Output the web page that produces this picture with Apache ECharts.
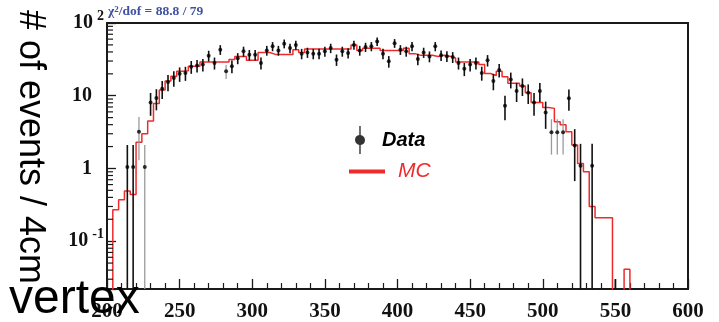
<!DOCTYPE html>
<html><head><meta charset="utf-8">
<script src="https://cdn.jsdelivr.net/npm/echarts@6/dist/echarts.min.js"></script>
<style>html,body{margin:0;padding:0;background:#fff}#c{width:719px;height:322px}</style>
</head><body><div id="c"></div>
<script>
// ---- data ----
const xStart = 200, xEnd = 600, binWidth = 4;
// MC histogram, events per 4 cm bin starting at 200 cm
const mcValues = [
  0, 0.27, 0.37, 0.49, 0.44, 2.3, 3.0, 4.5, 7.8, 12,
  16, 18.5, 21.7, 22, 25.4, 25.4, 29, 29, 29, 29,
  29, 31.4, 34.7, 34.7, 30.7, 30.7, 39.4, 39.4, 37, 37,
  37, 37, 43, 39.4, 44, 44, 44, 44, 44, 44,
  44, 44, 50, 42, 45, 45, 45, 42, 42, 42,
  42, 45, 37.9, 35.9, 35.9, 35.9, 34.7, 36, 35, 33,
  29, 29, 29, 29, 26.8, 20.2, 19, 21.7, 18.3, 14.8,
  14.8, 13.6, 11, 8.1, 8.1, 6.9, 6.7, 4.4, 4.0, 3.2,
  2.1, 1.17, 0.9, 0.3, 0.21, 0.21, 0.21, 0, 0, 0.041,
  0, 0, 0, 0, 0, 0, 0, 0, 0, 0
];
// Data points (bin centres), values and errors
const dataX = [
  214,218,222,226,230,234,238,242,246,250,
  254,258,262,266,270,274,278,282,286,290,
  294,298,302,306,310,314,318,322,326,330,
  334,338,342,346,350,354,358,362,366,370,
  374,378,382,386,390,394,398,402,406,410,
  414,418,422,426,430,434,438,442,446,450,
  454,458,462,466,470,474,478,482,486,490,
  494,498,502,506,510,514,518,522,526,534,
  550
];
const dataY = [
  1.05,1.05,3.2,1.05,8.1,9.3,12.5,15.4,17.5,20,
  20.5,25,26,26.8,35.5,28.2,43,21.7,25.4,32.8,
  40.8,36.6,36.6,28.2,42,47.8,42,52,45.2,50,
  37.9,39.4,37.9,37.9,40.8,45.2,31.3,40.8,38.6,50,
  42,46.7,47.8,55.7,37.9,29.7,52.8,43,40.8,47.8,
  32,39.4,34.7,47.8,36,35,34,28.2,23.4,26.8,
  28.2,20.6,30.7,15.9,22.5,7.3,16.7,11.6,13.6,11.0,
  8.1,11.6,5.9,3.15,3.15,3.15,9.2,2.07,1.09,1.09,
  0
];
const dataErr = [
  1.05,1.05,1.9,1.05,2.8,3,3.5,3.9,4.2,4.5,
  4.5,5,5.1,5.2,6,5.3,6.6,4.7,5,5.7,
  6.4,6,6,5.3,6.5,6.9,6.5,7.2,6.7,7.1,
  6.2,6.3,6.2,6.2,6.4,6.7,5.6,6.4,6.2,7.1,
  6.5,6.8,6.9,7.5,6.2,5.4,7.3,6.6,6.4,6.9,
  5.7,6.3,5.9,6.9,6,5.9,5.8,5.3,4.8,5.2,
  5.3,4.5,5.5,4,4.7,2.7,4.1,3.4,3.7,3.3,
  2.8,3.4,2.4,1.6,1.6,1.6,3,1.4,1.09,1.09,
  0.03
];
const faintX = [222, 226, 282, 506, 510, 514];
const yMinorTicks = [0.03,0.04,0.05,0.06,0.07,0.08,0.09,
  0.2,0.3,0.4,0.5,0.6,0.7,0.8,0.9,
  2,3,4,5,6,7,8,9,
  20,30,40,50,60,70,80,90];
const yMin = 0.022, yMax = 100;
const FLOOR = 1e-3;

// ---- build ----
const mcLine = mcValues.map((v, k) => [xStart + binWidth * k, v > 0 ? v : FLOOR]);
mcLine.push([xEnd, mcValues[mcValues.length - 1] > 0 ? mcValues[mcValues.length - 1] : FLOOR]);

const pts = dataX.map((x, i) => [x, dataY[i]]).filter(d => d[1] > 0);
const errs = dataX.map((x, i) => [x, Math.max(dataY[i] - dataErr[i], FLOOR), dataY[i] + dataErr[i], faintX.indexOf(x) >= 0 ? 1 : 0]);

const serif = '"Liberation Serif", "Times New Roman", serif';
const sans = '"Liberation Sans", Arial, sans-serif';
const axisCol = '#1a1a1a';
const red = '#ee2b2b';

const chart = echarts.init(document.getElementById('c'), null, {renderer: 'canvas'});
chart.setOption({
  animation: false,
  backgroundColor: '#fff',
  grid: {left: 107, right: 31, top: 23, bottom: 30, show: true, borderColor: axisCol, borderWidth: 2, backgroundColor: 'transparent'},
  xAxis: {
    type: 'value', min: xStart, max: xEnd, interval: 50,
    axisLine: {show: true, onZero: false, lineStyle: {color: axisCol, width: 2}},
    axisTick: {show: true, inside: true, length: 10, lineStyle: {color: axisCol, width: 1.3}},
    minorTick: {show: true, splitNumber: 5, length: 6, lineStyle: {color: axisCol, width: 1.2}},
    splitLine: {show: false},
    axisLabel: {margin: 12, color: '#111', fontFamily: serif, fontWeight: 'bold', fontSize: 21}
  },
  yAxis: {
    type: 'log', logBase: 10, min: yMin, max: yMax,
    axisLine: {show: true, lineStyle: {color: axisCol, width: 2}},
    axisTick: {show: true, inside: true, length: 9, lineStyle: {color: axisCol, width: 1.3}},
    splitLine: {show: false},
    axisLabel: {
      margin: 3, color: '#111',
      formatter: function (v) {
        const l = Math.log10(v), e = Math.round(l);
        if (Math.abs(l - e) > 1e-6) return '';
        if (e === 0) return '{b|1}{p|}';
        if (e === 1) return '{b|10}{p|}';
        return '{b|10}{s|' + (e < 0 ? '-' : '') + Math.abs(e) + '}';
      },
      rich: {
        b: {fontFamily: serif, fontWeight: 'bold', fontSize: 20, color: '#111'},
        s: {fontFamily: serif, fontWeight: 'bold', fontSize: 14, color: '#111', verticalAlign: 'top', padding: [0, 0, 14, 4]},
        p: {width: 12}
      }
    }
  },
  legend: [
    {
      data: [{name: 'Data', icon: 'path://M4.3,0h1.4v9.05a5,5 0 0 1 0,9.9v9.05h-1.4v-9.05a5,5 0 0 1 0,-9.9z'}],
      left: 355, top: 126, padding: 0, itemWidth: 10, itemHeight: 28, selectedMode: false,
      textStyle: {fontFamily: sans, fontStyle: 'italic', fontWeight: 'bold', fontSize: 20, color: '#000', padding: [10, 0, 0, 12]}
    },
    {
      data: [{name: 'MC', icon: 'rect'}],
      left: 349, top: 161, padding: 0, itemWidth: 36, itemHeight: 4, selectedMode: false,
      textStyle: {fontFamily: sans, fontStyle: 'italic', fontSize: 21, color: red, padding: [12, 0, 0, 8]}
    }
  ],
  series: [
    {
      name: 'MC', type: 'line', step: 'end', data: mcLine, symbol: 'none', clip: true,
      color: red, lineStyle: {color: red, width: 1.5}, z: 2
    },
    {
      name: 'DataErr', type: 'custom', data: errs, clip: true, z: 3,
      encode: {x: 0, y: [1, 2]},
      renderItem: function (params, api) {
        const x = api.value(0), lo = api.value(1), hi = api.value(2), f = api.value(3);
        const p1 = api.coord([x, lo]), p2 = api.coord([x, hi]);
        return {type: 'line', shape: {x1: p1[0], y1: p1[1], x2: p2[0], y2: p2[1]},
          style: {stroke: f ? '#9a9a9a' : '#111', lineWidth: f ? 1.3 : 1.6}};
      }
    },
    {
      name: 'Data', type: 'scatter', data: pts, symbol: 'circle', symbolSize: 4,
      itemStyle: {color: '#000'}, z: 4, clip: true
    },
    {
      name: 'yMinor', type: 'custom', data: yMinorTicks.map(v => [xStart, v]), clip: false, z: 5,
      renderItem: function (params, api) {
        const p = api.coord([api.value(0), api.value(1)]);
        return {type: 'line', shape: {x1: p[0], y1: p[1], x2: p[0] + 6, y2: p[1]},
          style: {stroke: axisCol, lineWidth: 1.2}};
      }
    }
  ],
  graphic: [
    {
      type: 'text', left: 108, top: 5, z: 10,
      style: {
        text: '{a|χ}{s|2}{a|/dof = 88.8 / 79}',
        rich: {
          a: {fontFamily: serif, fontWeight: 'bold', fontSize: 13.5, fill: '#3f51a3'},
          s: {fontFamily: serif, fontWeight: 'bold', fontSize: 9, fill: '#3f51a3', verticalAlign: 'top'}
        }
      }
    },
    {
      type: 'text', x: 30, y: 147, rotation: -Math.PI / 2, z: 10,
      style: {text: '# of events / 4cm', font: '36px ' + sans, fill: '#000', align: 'center', verticalAlign: 'middle'}
    },
    {
      type: 'text', x: 9, y: 300, z: 20,
      style: {text: 'vertex', font: '48px ' + sans, fill: '#000', align: 'left', verticalAlign: 'middle'}
    }
  ]
});
</script>
</body></html>
